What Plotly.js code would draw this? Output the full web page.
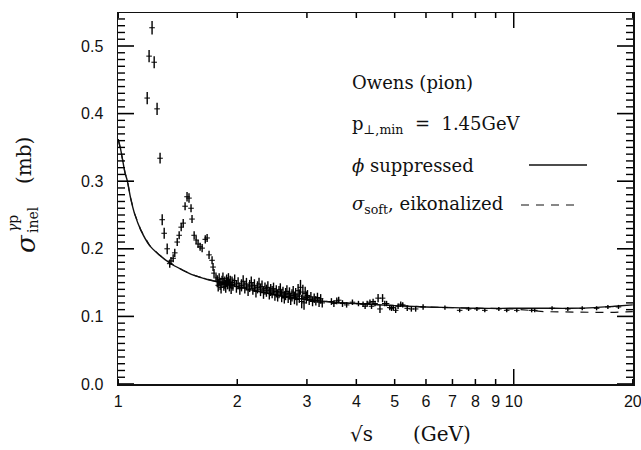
<!DOCTYPE html>
<html>
<head>
<meta charset="utf-8">
<script src="https://cdn.plot.ly/plotly-3.0.1.min.js"></script>
<style>html,body{margin:0;padding:0;background:#fff;}#plot{width:641px;height:450px;}</style>
</head>
<body>
<div id="plot"></div>
<script>
// ---- data: measured sigma_inel(gamma p) [mb] vs sqrt(s) [GeV] ----
const dataX = [
 1.184,1.197,1.218,1.233,1.254,1.276,1.292,1.307,1.33,1.35,1.36,1.377,1.39,1.41,1.426,1.443,1.46,1.476,1.493,1.51,
 1.528,1.537,1.556,1.574,1.592,1.611,1.63,1.66,1.678,1.697,1.727,1.737,1.747,1.767,
 1.78,1.79,1.80,1.81,1.82,1.83,1.84,1.85,1.86,1.87,1.88,1.89,1.90,1.91,1.92,1.93,1.94,1.95,1.97,1.99,
 2.01,2.03,2.05,2.07,2.09,2.11,2.13,2.15,2.17,2.19,2.21,2.23,2.25,2.27,2.29,2.31,2.33,2.35,2.37,2.39,
 2.41,2.43,2.45,2.47,2.49,2.51,2.53,2.55,2.57,2.59,2.61,2.63,2.65,2.67,2.69,2.71,2.73,2.75,2.77,2.79,
 2.81,2.83,2.85,2.87,2.89,2.91,2.93,2.95,2.97,2.99,3.01,3.04,3.07,3.10,3.13,3.16,3.19,3.22,3.25,3.28,
 3.46,3.51,3.57,3.61,3.69,3.78,3.91,4.05,4.16,4.21,4.26,4.33,4.37,4.41,4.46,4.54,4.59,4.66,4.72,4.77,
 4.86,4.91,4.96,5.03,5.10,5.18,5.24,5.38,5.51,5.65,5.90,6.70,7.3,7.69,8.07,8.45,9.17,9.6,10.18,11.1,
 11.3,12.5,13.7,14.9,16.2,17.3,18.4
];
const dataY = [
 0.423,0.485,0.527,0.476,0.407,0.334,0.243,0.223,0.200,0.178,0.182,0.186,0.194,0.210,0.220,0.232,0.238,0.263,0.277,0.275,
 0.260,0.244,0.220,0.213,0.207,0.203,0.201,0.214,0.216,0.191,0.183,0.173,0.164,0.157,
 0.152,0.146,0.155,0.148,0.143,0.151,0.156,0.147,0.150,0.144,0.153,0.149,0.155,0.146,0.151,0.142,0.150,0.147,0.153,0.144,
 0.149,0.141,0.146,0.152,0.143,0.148,0.139,0.145,0.150,0.141,0.146,0.137,0.143,0.148,0.139,0.144,0.135,0.141,0.138,0.143,
 0.134,0.139,0.136,0.141,0.132,0.137,0.131,0.136,0.140,0.130,0.135,0.128,0.133,0.137,0.129,0.134,0.126,0.131,0.136,0.127,
 0.133,0.125,0.138,0.130,0.143,0.122,0.136,0.120,0.134,0.128,0.131,0.124,0.129,0.122,0.127,0.123,0.128,0.121,0.126,0.120,
 0.122,0.119,0.123,0.124,0.119,0.117,0.121,0.119,0.118,0.115,0.119,0.121,0.115,0.122,0.119,0.127,0.111,0.127,0.119,0.119,
 0.113,0.112,0.113,0.109,0.115,0.118,0.117,0.112,0.111,0.111,0.114,0.113,0.109,0.111,0.111,0.109,0.111,0.109,0.109,0.109,
 0.109,0.112,0.111,0.112,0.112,0.114,0.114
];
const dataErr = [
 0.009,0.009,0.010,0.009,0.009,0.008,0.008,0.008,0.008,0.006,0.006,0.006,0.006,0.006,0.006,0.006,0.006,0.006,0.007,0.007,
 0.006,0.006,0.006,0.006,0.006,0.006,0.006,0.006,0.006,0.006,0.006,0.006,0.006,0.006,
 0.009,0.009,0.009,0.009,0.009,0.009,0.009,0.009,0.009,0.009,0.009,0.009,0.009,0.009,0.009,0.009,0.009,0.009,0.009,0.009,
 0.009,0.009,0.009,0.009,0.009,0.009,0.009,0.009,0.009,0.009,0.009,0.009,0.009,0.009,0.009,0.009,0.009,0.009,0.009,0.009,
 0.009,0.009,0.009,0.009,0.009,0.009,0.009,0.009,0.009,0.009,0.009,0.009,0.009,0.009,0.009,0.009,0.009,0.009,0.009,0.009,
 0.009,0.009,0.010,0.010,0.011,0.010,0.011,0.010,0.010,0.009,0.008,0.007,0.007,0.007,0.007,0.007,0.007,0.007,0.007,0.007,
 0.005,0.005,0.005,0.005,0.005,0.004,0.004,0.004,0.004,0.004,0.004,0.004,0.004,0.004,0.004,0.006,0.006,0.006,0.004,0.004,
 0.004,0.004,0.004,0.004,0.004,0.004,0.004,0.004,0.004,0.004,0.004,0.003,0.003,0.003,0.003,0.003,0.003,0.003,0.003,0.003,
 0.003,0.003,0.003,0.003,0.003,0.003,0.003
];

// ---- model curves ----
const curveX  = [1.0,1.012,1.025,1.04,1.055,1.075,1.1,1.14,1.2,1.27,1.35,1.45,1.55,1.65,1.78,2.0,2.3,2.6,3.0,3.5,4.0,5.0,6.0,7.0,8.0,10,12,14,16,18,20];
const solidY  = [0.362,0.350,0.333,0.313,0.300,0.275,0.252,0.228,0.205,0.191,0.179,0.169,0.161,0.156,0.151,0.144,0.136,0.130,0.125,0.121,0.119,0.116,0.114,0.113,0.112,0.112,0.112,0.112,0.113,0.115,0.117];
const dashedY = [0.362,0.350,0.333,0.313,0.300,0.275,0.252,0.228,0.205,0.191,0.179,0.169,0.161,0.156,0.151,0.144,0.136,0.130,0.125,0.121,0.119,0.116,0.114,0.113,0.112,0.111,0.107,0.106,0.106,0.106,0.107];

const xTickVals = [1,2,3,4,5,6,7,8,9,10,20];
const xTickText = ['1','2','3','4','5','6','7','8','9','10','20'];
const yMajorTicks = [0,0.1,0.2,0.3,0.4,0.5];

// ---- layout helpers (pixel -> paper) ----
const L=118, R=633, T=13, B=384;
const W=R-L, H=B-T;
const px = p => (p-L)/W;
const py = p => (B-p)/H;

const traces = [
 {x:curveX, y:dashedY, mode:'lines', line:{color:'#111', width:1.2, dash:'8px,7px'}, hoverinfo:'skip'},
 {x:curveX, y:solidY, mode:'lines', line:{color:'#111', width:1.4, shape:'spline'}, hoverinfo:'skip'},
 {x:dataX, y:dataY, mode:'markers', type:'scatter',
  marker:{symbol:'line-ew', size:4, color:'#000', line:{color:'#000', width:1}},
  error_y:{type:'data', array:dataErr, visible:true, color:'#000', thickness:1.4, width:0}}
];

// axis tick marks (inside, on all four sides)
const tickShapes = [];
const tk = (xref,yref,x0,x1,y0,y1,w) => tickShapes.push({type:'line', xref:xref, yref:yref, x0:x0, x1:x1, y0:y0, y1:y1, line:{color:'#000', width:w}});
yMajorTicks.forEach(v => { tk('paper','y',0,16/W,v,v,1.6); tk('paper','y',1,1-16/W,v,v,1.6); });
for (let i=1;i<=54;i++){ const v=i/100; if (i%10===0) continue; tk('paper','y',0,7/W,v,v,1.4); tk('paper','y',1,1-7/W,v,v,1.4); }
xTickVals.forEach(v => { const len = (v===10)?15:5; tk('x','paper',v,v,0,len/H,1.5); tk('x','paper',v,v,1,1-len/H,1.5); });

const serif = 'DejaVu Serif, serif';
const ann = (x,y,text,size,extra) => Object.assign({xref:'paper', yref:'paper', x:px(x), y:py(y), text:text, showarrow:false,
  xanchor:'left', yanchor:'middle', font:{family:serif, size:size, color:'#111'}}, extra||{});

const layout = {
 width:641, height:450,
 margin:{l:L, r:641-R, t:T, b:450-B},
 paper_bgcolor:'#fff', plot_bgcolor:'#fff',
 showlegend:false,
 xaxis:{type:'log', range:[-0.0005, Math.log10(20)+0.0005], tickmode:'array', tickvals:xTickVals, ticktext:xTickText,
   ticks:'', mirror:true, showline:true, linecolor:'#111', linewidth:1.5,
   ticklabeloverflow:'allow',
   showgrid:false, zeroline:false, tickfont:{family:'Liberation Sans, Arial, sans-serif', size:16, color:'#111'}, ticklabelstandoff:2},
 yaxis:{range:[0, H/676], tickmode:'array', tickvals:yMajorTicks, tickformat:'.1f',
   ticks:'', mirror:true, showline:true, linecolor:'#111', linewidth:1.5,
   showgrid:false, zeroline:false, tickfont:{family:'Liberation Sans, Arial, sans-serif', size:16, color:'#111'}, ticklabelstandoff:10},
 shapes: tickShapes.concat([
  {type:'line', xref:'paper', yref:'paper', x0:px(529), x1:px(587), y0:py(165), y1:py(165), line:{color:'#111', width:1.3}},
  {type:'line', xref:'paper', yref:'paper', x0:px(521), x1:px(581), y0:py(205), y1:py(205), line:{color:'#111', width:1.2, dash:'8px,7px'}}
 ]),
 annotations:[
  ann(350, 83, 'Owens (pion)', 18),
  ann(350, 125, 'p<sub>⊥,min</sub>  =  1.45GeV', 18),
  ann(350, 165, '<i>ϕ</i> suppressed', 18),
  ann(350, 205, '<i>σ</i><sub>soft</sub>, eikonalized', 18),
  // x-axis title
  ann(348, 434, '√s', 20, {xanchor:'left'}),
  ann(411, 434, '(GeV)', 20, {xanchor:'left'}),
  // y-axis title (rotated)
  ann(26, 244, '<i>σ</i>', 26, {xanchor:'center', textangle:-90}),
  ann(13, 224, '<i>γ</i>p', 14, {xanchor:'center', textangle:-90}),
  ann(33, 220, 'inel', 14, {xanchor:'center', textangle:-90}),
  ann(24, 161, '(mb)', 20, {xanchor:'center', textangle:-90})
 ]
};

Plotly.newPlot('plot', traces, layout, {displayModeBar:false, staticPlot:true});
</script>
</body>
</html>
